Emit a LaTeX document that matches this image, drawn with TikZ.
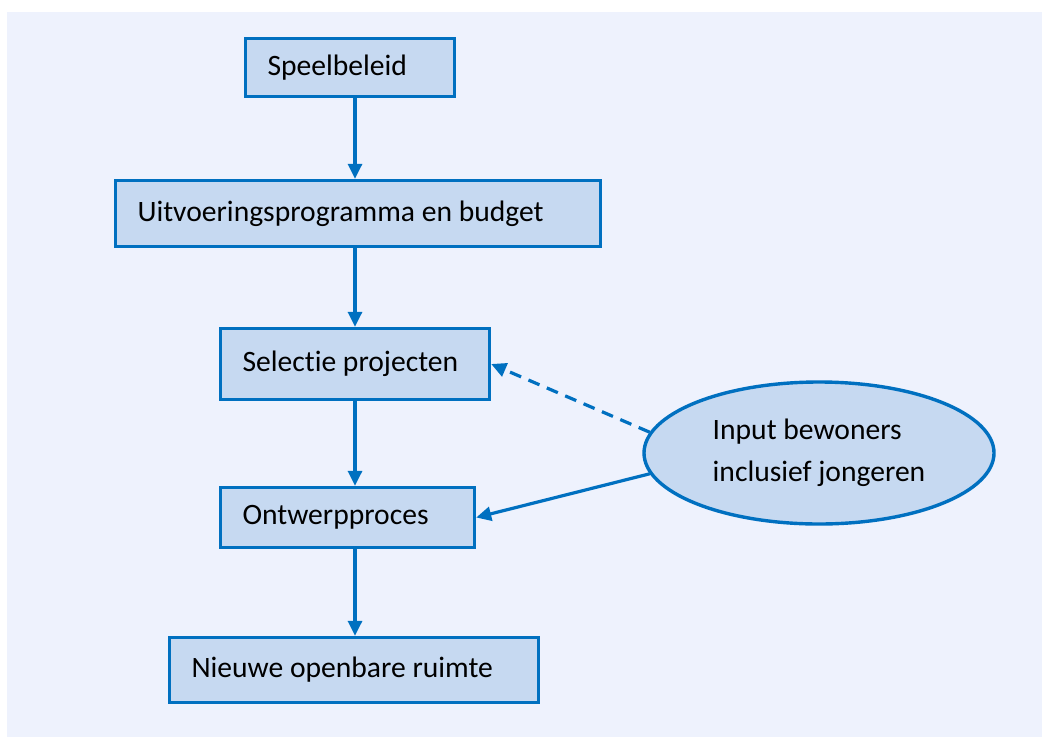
\documentclass[tikz,border=0pt]{standalone}
\usepackage{fontspec}
\setmainfont{Carlito}[Ligatures=NoCommon]
\usetikzlibrary{shapes.geometric,arrows.meta}
\definecolor{rand}{HTML}{0070C0}
\definecolor{vulling}{HTML}{C6D9F1}
\definecolor{achter}{HTML}{EEF2FD}
\begin{document}
\begin{tikzpicture}[x=0.5pt,y=-0.5pt,
  stap/.style={draw=rand,fill=vulling,line width=1.7pt,align=flush left,
    inner xsep=11pt,inner ysep=0pt,font=\fontsize{14.8}{21}\selectfont},
  pijl/.style={draw=rand,line width=1.6pt,-{Triangle[length=7.5pt,width=7pt]}}]
% ACHTERGROND
\useasboundingbox (0,0) rectangle (1042,738);
\fill [achter] (7,12) rectangle (1042,737);
% STAPPEN
\node [stap,text width=82.5pt,minimum height=29pt] (speel) at (350,67.5) {Speelbeleid};
\node [stap,text width=220.5pt,minimum height=33pt] (uitv) at (358,213.5) {Uitvoeringsprogramma en budget};
\node [stap,text width=112.5pt,minimum height=35.5pt] (sel) at (355,364) {Selectie projecten};
\node [stap,text width=105pt,minimum height=30pt] (ontw) at (347.5,517.5) {Ontwerpproces};
\node [stap,text width=162.5pt,minimum height=32.5pt] (nieuw) at (354,670) {Nieuwe openbare ruimte};
% INPUT
\node [stap,ellipse,inner xsep=0pt,minimum width=175pt,minimum height=71pt] (input) at (819,453)
  {Input bewoners\\inclusief jongeren};
% PIJLEN
\coordinate (as) at (355,0);
\draw [pijl] (speel.south -| as) -- (uitv.north -| as);
\draw [pijl] (uitv.south -| as) -- (sel.north -| as);
\draw [pijl] (sel.south -| as) -- (ontw.north -| as);
\draw [pijl] (ontw.south -| as) -- (nieuw.north -| as);
\draw [pijl,dash pattern=on 6pt off 4pt] (input.173) -- (sel.east);
\draw [pijl] (input.187) -- (ontw.east);
\end{tikzpicture}
\end{document}
